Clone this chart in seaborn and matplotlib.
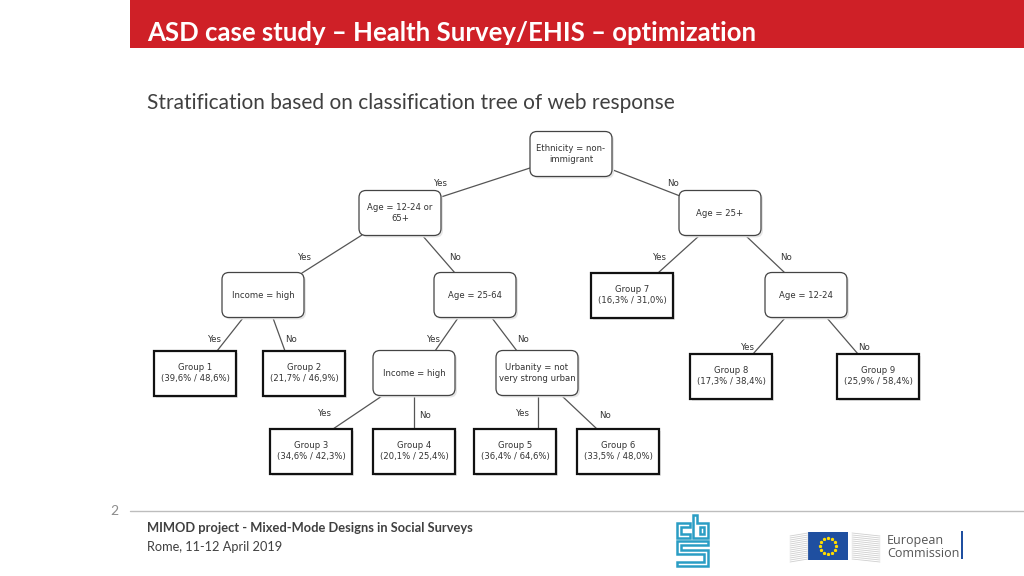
import numpy as np
import pandas as pd
import matplotlib
matplotlib.use("Agg")
import matplotlib.pyplot as plt
from matplotlib.patches import FancyBboxPatch, Rectangle, Polygon
import seaborn as sns

# slide texts
title = "ASD case study – Health Survey/EHIS – optimization"
subtitle = "Stratification based on classification tree of web response"
footer_1 = "MIMOD project - Mixed-Mode Designs in Social Surveys"
footer_2 = "Rome, 11-12 April 2019"
page_no = "2"

# split nodes of the classification tree
split_labels = ["Ethnicity = non-\nimmigrant", "Age = 12-24 or\n65+", "Age = 25+",
                "Income = high", "Age = 25-64", "Age = 12-24",
                "Income = high", "Urbanity = not\nvery strong urban"]
split_xy = [(571, 154), (400, 213), (720, 213), (263, 295), (475, 295),
            (806, 295), (414, 373), (537, 373)]

# leaf groups (two response percentages per group)
group_ids = [1, 2, 3, 4, 5, 6, 7, 8, 9]
pct_a = [39.6, 21.7, 34.6, 20.1, 36.4, 33.5, 16.3, 17.3, 25.9]
pct_b = [48.6, 46.9, 42.3, 25.4, 64.6, 48.0, 31.0, 38.4, 58.4]
group_xy = [(195, 373), (304, 373), (311, 451), (414, 451), (515, 451),
            (618, 451), (632, 295), (731, 376), (878, 376)]

# branches: start, end, label, label position
edges = [
    ((530, 168), (441, 197), "Yes", (441, 184)),
    ((613, 170), (680, 196), "No", (673, 184)),
    ((362, 235), (302, 273), "Yes", (305, 258)),
    ((422, 235), (455, 273), "No", (455, 258)),
    ((700, 235), (658, 273), "Yes", (660, 258)),
    ((745, 235), (785, 273), "No", (786, 258)),
    ((243, 318), (217, 351), "Yes", (215, 340)),
    ((273, 318), (285, 351), "No", (291, 340)),
    ((458, 318), (435, 351), "Yes", (434, 340)),
    ((492, 318), (517, 351), "No", (523, 340)),
    ((785, 318), (753, 354), "Yes", (748, 347)),
    ((827, 318), (858, 354), "No", (864, 347)),
    ((382, 396), (333, 429), "Yes", (325, 414)),
    ((414, 396), (414, 429), "No", (425, 415)),
    ((538, 396), (538, 429), "Yes", (523, 414)),
    ((562, 396), (597, 429), "No", (605, 415)),
]

sns.set_theme(style="white")
plt.rcParams["font.family"] = ["DejaVu Sans"]

fig = plt.figure(figsize=(10.24, 5.76), dpi=100)
ax = fig.add_axes([0, 0, 1, 1])
ax.set_xlim(0, 1024)
ax.set_ylim(576, 0)
ax.axis("off")

# header
ax.add_patch(Rectangle((130, 0), 894, 48, color="#cf2027", lw=0))
ax.text(147, 33, title, color="white", fontsize=18.5, fontweight="bold",
        family="Lato", va="center", ha="left")
ax.text(147, 103, subtitle, color="#404040", fontsize=15, family="Lato",
        va="center", ha="left")

# branches
rows = []
for i, (p0, p1, lab, lp) in enumerate(edges):
    rows.append({"x": p0[0], "y": p0[1], "edge": i})
    rows.append({"x": p1[0], "y": p1[1], "edge": i})
edge_df = pd.DataFrame(rows)
sns.lineplot(data=edge_df, x="x", y="y", units="edge", estimator=None,
             color="#555555", lw=0.9, ax=ax, legend=False, sort=False)
ax.set_xlim(0, 1024)
ax.set_ylim(576, 0)
for p0, p1, lab, lp in edges:
    ax.text(lp[0], lp[1], lab, fontsize=6.2, color="#333333", ha="center", va="center")

bw, bh = 82, 45
box_text = dict(fontsize=6.1, color="#333333", ha="center", va="center", linespacing=1.25)

for lab, (cx, cy) in zip(split_labels, split_xy):
    ax.add_patch(FancyBboxPatch((cx - bw / 2 + 2, cy - bh / 2 + 2), bw, bh,
                                boxstyle="round,pad=0,rounding_size=7",
                                fc="#e6e6e6", ec="none", zorder=2))
    ax.add_patch(FancyBboxPatch((cx - bw / 2, cy - bh / 2), bw, bh,
                                boxstyle="round,pad=0,rounding_size=7",
                                fc="white", ec="#444444", lw=0.9, zorder=3))
    ax.text(cx, cy, lab, zorder=4, **box_text)

for g, a, b, (cx, cy) in zip(group_ids, pct_a, pct_b, group_xy):
    ax.add_patch(Rectangle((cx - bw / 2 + 2, cy - bh / 2 + 2), bw, bh,
                           fc="#e6e6e6", ec="none", zorder=2))
    ax.add_patch(Rectangle((cx - bw / 2, cy - bh / 2), bw, bh,
                           fc="white", ec="#111111", lw=1.6, zorder=3))
    lab = "Group %d\n(%s%% / %s%%)" % (g, f"{a:.1f}".replace(".", ","),
                                       f"{b:.1f}".replace(".", ","))
    ax.text(cx, cy, lab, zorder=4, **box_text)

# footer
ax.plot([130, 1024], [511, 511], color="#bdbdbd", lw=1)
ax.text(114, 511, page_no, color="#8c8c8c", fontsize=10, family="Lato",
        ha="center", va="center")
ax.text(147, 528, footer_1, color="#404040", fontsize=9.3, fontweight="bold",
        family="Lato", va="center")
ax.text(147, 547, footer_2, color="#404040", fontsize=9.2, family="Lato",
        va="center")

# cbs logo (simplified outline letters)
cbs_col = "#2a9dc4"
logo_kw = dict(closed=True, fill=False, ec=cbs_col, lw=1.8)
ax.add_patch(Polygon([(690, 523), (677, 523), (677, 538), (690, 538), (690, 534),
                      (681, 534), (681, 527), (690, 527)], **logo_kw))
ax.add_patch(Polygon([(693, 515), (697, 515), (697, 523), (708, 523), (708, 538),
                      (693, 538)], **logo_kw))
ax.add_patch(Polygon([(700, 527), (704, 527), (704, 534), (700, 534)], **logo_kw))
ax.add_patch(Polygon([(677, 541), (708, 541), (708, 545), (681, 545), (681, 550),
                      (708, 550), (708, 566), (677, 566), (677, 562), (704, 562),
                      (704, 554), (677, 554)], **logo_kw))

# EU logo (simplified)
for k in range(14):
    yy = 533 + k * 2
    ax.plot([790, 808], [yy + 3, yy], color="#cfcfcf", lw=0.6)
    ax.plot([852, 880], [yy, yy + 3], color="#cfcfcf", lw=0.6)
ax.add_patch(Rectangle((808, 532), 40, 28, color="#1f4fa0", lw=0))
ang = np.linspace(0, 2 * np.pi, 13)[:-1]
ax.scatter(828 + 8 * np.cos(ang), 546 + 8 * np.sin(ang), s=2.5, color="#ffdd00",
           marker="*", zorder=5)
ax.text(887, 547, "European\nCommission", color="#555555", fontsize=9, family="Open Sans",
        va="center", ha="left", linespacing=1.05)
ax.add_patch(Rectangle((961, 531), 2, 28, color="#1f4fa0", lw=0))

fig.savefig("out.png", dpi=100)
